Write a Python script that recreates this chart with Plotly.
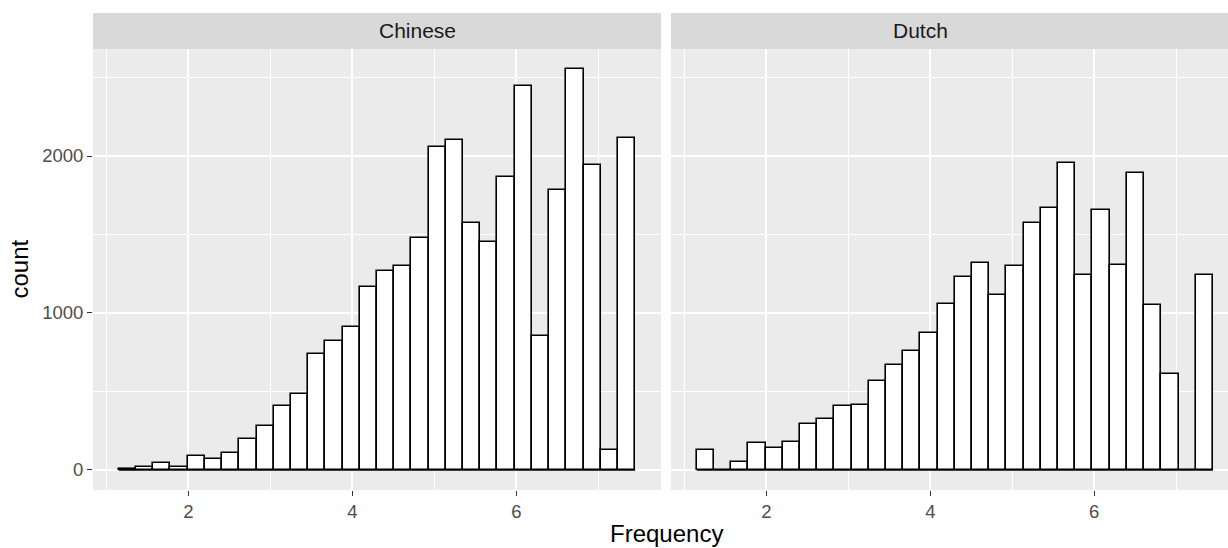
import plotly.graph_objects as go

# Histogram bins (shared): 30 bins of width 0.21 starting at 1.15
bin_start = 1.15
bin_width = 0.21
n_bins = 30
panels = ["Chinese", "Dutch"]

chinese_counts = [5, 21, 42, 19, 91, 70, 106, 197, 278, 408, 482, 737, 820, 911, 1163,
                  1270, 1301, 1480, 2055, 2100, 1573, 1452, 1866, 2446, 854, 1783, 2554,
                  1943, 127, 2117]
dutch_counts = [127, 0, 53, 170, 142, 180, 293, 323, 408, 416, 565, 669, 758, 875, 1055,
                1231, 1316, 1112, 1299, 1571, 1671, 1953, 1242, 1656, 1303, 1894, 1049,
                610, 0, 1242]

y_major = [0, 1000, 2000]
y_minor = [500, 1500, 2500]
x_major = [2, 4, 6]
x_minor = [1, 3, 5, 7]

centers = [bin_start + bin_width * (i + 0.5) for i in range(n_bins)]
bin_end = bin_start + bin_width * n_bins

FONT = "Liberation Sans, Arial, sans-serif"

fig = go.Figure()
for k, counts in enumerate([chinese_counts, dutch_counts]):
    xa = "x" if k == 0 else "x2"
    ya = "y" if k == 0 else "y2"
    fig.add_trace(go.Bar(x=centers, y=counts, width=bin_width, xaxis=xa, yaxis=ya,
                         marker=dict(color="white", line=dict(color="black", width=1.6)),
                         showlegend=False, hoverinfo="x+y"))
    fig.add_trace(go.Scatter(x=[bin_start, bin_end], y=[0, 0], mode="lines", xaxis=xa, yaxis=ya,
                             line=dict(color="black", width=1.6), showlegend=False, hoverinfo="skip"))

W, H = 1228, 548
ml, mr, mt, mb = 93, 0, 49, 58
pw = W - ml - mr
ph = H - mt - mb
d1_end = (661 - ml) / pw
d2_start = (671 - ml) / pw

ymax = max(max(chinese_counts), max(dutch_counts))
ypad = 0.05 * ymax
xr = bin_end - bin_start
xlo = bin_start - 0.05 * xr
xhi = bin_end + 0.05 * xr
# right panel is cropped at the window edge (scale: 82 px per unit, 6 at x=1094)
x2hi = 6 + (W - 1094) / 82

tickfont = dict(family=FONT, size=18.5, color="#4D4D4D")


def xaxis_cfg(domain, rng, anchor):
    return dict(domain=domain, range=rng, anchor=anchor,
                showgrid=True, gridcolor="white", gridwidth=2,
                tickvals=x_major, ticktext=[str(v) for v in x_major],
                ticks="outside", ticklen=5, tickwidth=1.3, tickcolor="#333333",
                tickfont=tickfont, zeroline=False, showline=False,
                minor=dict(tickvals=x_minor, showgrid=True, gridcolor="white", gridwidth=1, ticks=""))


def yaxis_cfg(anchor, labels):
    return dict(domain=[0, 1], anchor=anchor, range=[-ypad, ymax + ypad],
                showgrid=True, gridcolor="white", gridwidth=2,
                tickvals=y_major, showticklabels=labels,
                ticks="outside" if labels else "", ticklen=5, tickwidth=1.3, tickcolor="#333333",
                tickfont=tickfont, zeroline=False, showline=False,
                minor=dict(tickvals=y_minor, showgrid=True, gridcolor="white", gridwidth=1, ticks=""))


fig.update_layout(
    width=W, height=H,
    margin=dict(l=ml, r=mr, t=mt, b=mb),
    paper_bgcolor="white", plot_bgcolor="#EBEBEB",
    bargap=0,
    xaxis=xaxis_cfg([0, d1_end], [xlo, xhi], "y"),
    xaxis2=xaxis_cfg([d2_start, 1], [xlo, x2hi], "y2"),
    yaxis=yaxis_cfg("x", True),
    yaxis2=yaxis_cfg("x2", False),
)

# facet strips
strip_h = 36 / ph
strips = [(0, d1_end), (d2_start, 1)]
for (x0, x1), name in zip(strips, panels):
    fig.add_shape(type="rect", xref="paper", yref="paper", x0=x0, x1=x1, y0=1, y1=1 + strip_h,
                  fillcolor="#D9D9D9", line=dict(width=0), layer="below")
    fig.add_annotation(x=(x0 + x1) / 2, y=1 + strip_h / 2, xref="paper", yref="paper",
                       text=name, showarrow=False, yanchor="middle",
                       font=dict(family=FONT, size=21, color="#1A1A1A"))

# axis titles
fig.add_annotation(x=(666 - ml) / pw, y=-(533 - (H - mb)) / ph, xref="paper", yref="paper",
                   text="Frequency", showarrow=False, yanchor="middle", xanchor="center",
                   font=dict(family=FONT, size=24, color="black"))
fig.add_annotation(x=-(ml - 19) / pw, y=0.5, xref="paper", yref="paper",
                   text="count", textangle=-90, showarrow=False,
                   xanchor="center", yanchor="middle",
                   font=dict(family=FONT, size=24, color="black"))

fig.write_html("out.html", config={"displayModeBar": False},
               post_script="document.body.style.margin='0px';document.body.style.overflow='hidden';")
